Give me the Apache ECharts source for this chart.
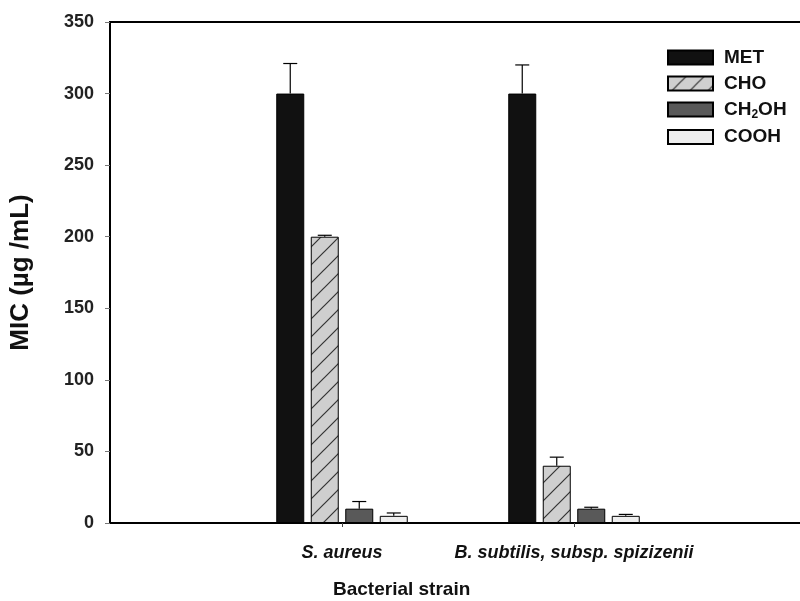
<!DOCTYPE html>
<html>
<head>
<meta charset="utf-8">
<script src="https://cdn.jsdelivr.net/npm/echarts@6/dist/echarts.min.js"></script>
<style>
  html, body { margin: 0; padding: 0; background: #fff; }
  #chart { width: 800px; height: 601px; }
</style>
</head>
<body>
<div id="chart"></div>
<script>
// data
const strains = ['S. aureus', 'B. subtilis, subsp. spizizenii']
const seriesNames = ['MET', 'CHO', 'CH2OH', 'COOH']
const metValues = [300, 300]
const choValues = [200, 40]
const ch2ohValues = [10, 10]
const coohValues = [5, 5]
// upper end of each error bar
const metErrTop = [321, 320]
const choErrTop = [201, 46]
const ch2ohErrTop = [15, 11]
const coohErrTop = [7, 6]
const yTicks = [0, 50, 100, 150, 200, 250, 300, 350]

// empty slots at both ends so the two strains sit at 1/3 and 2/3 of the axis
const categories = [''].concat(strains, [''])
const pad = arr => ['-'].concat(arr, ['-'])

const BAR_W = 28
const GAP = 6.5

function hatch () {
  const s = 18
  const c = document.createElement('canvas')
  c.width = s
  c.height = s
  const ctx = c.getContext('2d')
  ctx.fillStyle = '#cfcfcf'
  ctx.fillRect(0, 0, s, s)
  ctx.strokeStyle = '#333'
  ctx.lineWidth = 1.2
  ctx.beginPath()
  ctx.moveTo(-2, s + 2); ctx.lineTo(s + 2, -2)
  ctx.moveTo(-2, 2); ctx.lineTo(2, -2)
  ctx.moveTo(s - 2, s + 2); ctx.lineTo(s + 2, s - 2)
  ctx.stroke()
  return { image: c, repeat: 'repeat' }
}

const fills = ['#111111', hatch(), '#595959', '#eeeeee']
const values = [metValues, choValues, ch2ohValues, coohValues]
const errTops = [metErrTop, choErrTop, ch2ohErrTop, coohErrTop]

const barSeries = seriesNames.map((name, i) => ({
  name: name,
  type: 'bar',
  data: pad(values[i]),
  barWidth: BAR_W,
  barGap: (GAP / BAR_W * 100) + '%',
  itemStyle: { color: fills[i], borderColor: '#000', borderWidth: 1 }
}))

// error bars: [category index, series index, bar value, upper end]
const errData = []
errTops.forEach((tops, s) => {
  tops.forEach((top, k) => {
    errData.push([k + 1, s, values[s][k], top])
  })
})

const total = 4 * BAR_W + 3 * GAP

const errSeries = {
  type: 'custom',
  data: errData,
  z: 5,
  silent: true,
  renderItem: (params, api) => {
    const base = api.coord([api.value(0), api.value(2)])
    const top = api.coord([api.value(0), api.value(3)])
    const x = base[0] - total / 2 + BAR_W / 2 + api.value(1) * (BAR_W + GAP)
    const style = { stroke: '#000', lineWidth: 1.2 }
    return {
      type: 'group',
      children: [
        { type: 'line', shape: { x1: x, y1: base[1], x2: x, y2: top[1] }, style: style },
        { type: 'line', shape: { x1: x - 7, y1: top[1], x2: x + 7, y2: top[1] }, style: style }
      ]
    }
  }
}

const chart = echarts.init(document.getElementById('chart'))

const option = {
  animation: false,
  textStyle: { fontFamily: 'Liberation Sans, Arial, sans-serif' },
  grid: {
    left: 110,
    top: 22,
    bottom: 78,
    right: -6,
    outerBoundsMode: 'none',
    show: true,
    borderColor: '#000',
    borderWidth: 2
  },
  legend: {
    orient: 'vertical',
    left: 662,
    top: 43,
    itemWidth: 45,
    itemHeight: 14,
    itemGap: 7,
    icon: 'rect',
    data: seriesNames,
    formatter: name => name === 'CH2OH' ? '{a|CH}{s|2}{a|OH}' : name,
    textStyle: {
      fontSize: 19,
      fontWeight: 'bold',
      color: '#111',
      padding: [0, 0, 0, 6],
      rich: {
        a: { fontSize: 19, fontWeight: 'bold', color: '#111' },
        s: { fontSize: 12, fontWeight: 'bold', color: '#111', padding: [10, 0, 0, 0] }
      }
    }
  },
  xAxis: {
    type: 'category',
    data: categories,
    boundaryGap: false,
    axisLine: { lineStyle: { color: '#000', width: 2 } },
    axisTick: {
      length: 4,
      interval: i => i === 1 || i === 2,
      lineStyle: { color: '#444' }
    },
    axisLabel: {
      interval: 0,
      margin: 21,
      fontSize: 18,
      fontWeight: 'bold',
      fontStyle: 'italic',
      color: '#111'
    },
    splitLine: { show: false }
  },
  yAxis: {
    type: 'value',
    min: yTicks[0],
    max: yTicks[yTicks.length - 1],
    interval: 50,
    name: 'MIC (µg /mL)',
    nameLocation: 'middle',
    nameGap: 76,
    nameTextStyle: { fontSize: 26, fontWeight: 'bold', color: '#111' },
    axisLine: { show: true, lineStyle: { color: '#000', width: 2 } },
    axisTick: { show: true, length: 5, lineStyle: { color: '#777' } },
    axisLabel: { fontSize: 18, fontWeight: 'bold', color: '#222', margin: 16 },
    splitLine: { show: false }
  },
  graphic: [
    {
      type: 'text',
      left: 333,
      top: 580,
      style: {
        text: 'Bacterial strain',
        fontSize: 19,
        fontWeight: 'bold',
        fill: '#111',
        fontFamily: 'Liberation Sans, Arial, sans-serif'
      }
    }
  ],
  series: barSeries.concat([errSeries])
}

chart.setOption(option)

window.addEventListener('resize', () => {
  chart.resize()
})
</script>
</body>
</html>
